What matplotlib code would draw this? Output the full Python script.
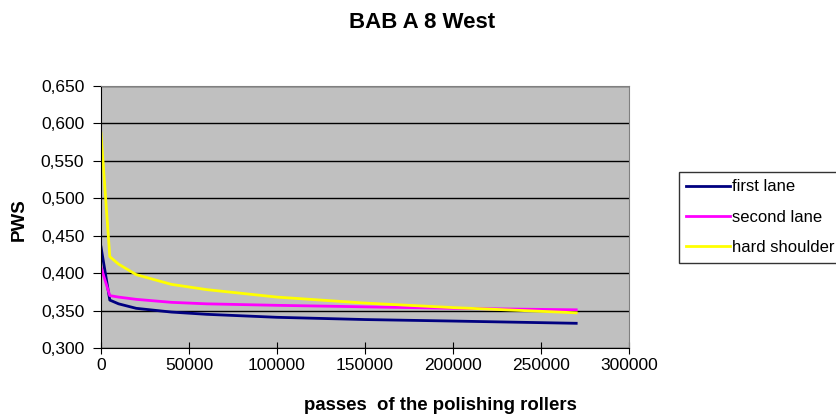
import matplotlib.pyplot as plt

plt.rcParams['font.family'] = ['Liberation Sans', 'DejaVu Sans']

passes = [0, 5000, 10000, 20000, 40000, 60000, 100000, 150000, 200000, 270000]
first_lane = [0.435, 0.364, 0.359, 0.353, 0.348, 0.345, 0.341, 0.338, 0.336, 0.333]
second_lane = [0.408, 0.370, 0.368, 0.365, 0.361, 0.359, 0.357, 0.355, 0.353, 0.351]
hard_shoulder = [0.587, 0.422, 0.412, 0.398, 0.385, 0.378, 0.368, 0.360, 0.354, 0.347]

fig = plt.figure(figsize=(8.37, 4.18), dpi=100)
ax = fig.add_axes([101/837, 1 - 348/418, 528/837, 262/418])
ax.set_facecolor('#C0C0C0')

ax.plot(passes, first_lane, color='#000080', lw=2, label='first lane')
ax.plot(passes, second_lane, color='#FF00FF', lw=2, label='second lane')
ax.plot(passes, hard_shoulder, color='#FFFF00', lw=2, label='hard shoulder')

ax.set_xlim(0, 300000)
ax.set_ylim(0.3, 0.65)
ax.set_xticks(range(0, 300001, 50000))
yt = [0.3 + 0.05 * i for i in range(8)]
ax.set_yticks(yt)
ax.set_yticklabels([f'{v:.3f}'.replace('.', ',') for v in yt])
ax.yaxis.grid(True, color='black', lw=1)
ax.set_axisbelow(True)
ax.tick_params(axis='y', labelsize=12.5, length=6, direction='out', pad=6)
ax.tick_params(axis='x', labelsize=12.5, length=8, direction='inout', pad=3)
for s in ['top', 'right']:
    ax.spines[s].set_color('#808080')
ax.spines['left'].set_color('black')
ax.spines['bottom'].set_color('black')

fig.text(422/837, 1 - 22/418, 'BAB A 8 West', ha='center', va='center',
         fontsize=16, fontweight='bold')
fig.text(19/837, 1 - 220/418, 'PWS', ha='center', va='center', rotation=90,
         fontsize=13.5, fontweight='bold')
fig.text(440/837, 1 - 405/418, 'passes  of the polishing rollers',
         ha='center', va='center', fontsize=13.4, fontweight='bold')

leg = fig.legend(loc='upper left', bbox_to_anchor=(679/837, 1 - 172/418),
                 frameon=True, fancybox=False, edgecolor='black',
                 fontsize=12, handlelength=2.6, handletextpad=0.15,
                 labelspacing=0.92, borderaxespad=0, borderpad=0.45)
leg.get_frame().set_linewidth(1)

fig.savefig('out.png', dpi=100)
